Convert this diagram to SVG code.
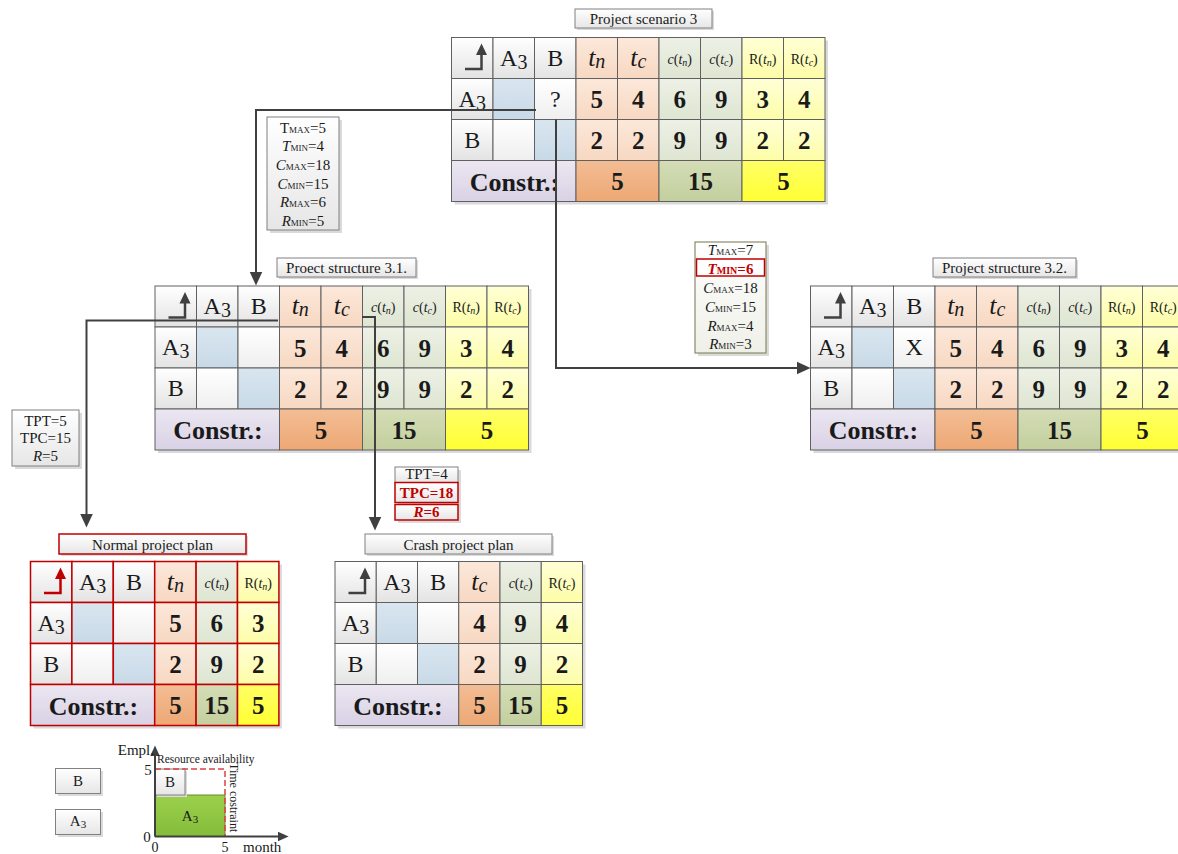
<svg xmlns="http://www.w3.org/2000/svg" width="1178" height="854" viewBox="0 0 1178 854">
<defs>
<linearGradient id="gHd" x1="0" y1="0" x2="0" y2="1"><stop offset="0" stop-color="#ffffff"/><stop offset="1" stop-color="#e3e3e3"/></linearGradient>
<linearGradient id="gBl" x1="0" y1="0" x2="0" y2="1"><stop offset="0" stop-color="#d9e6f0"/><stop offset="1" stop-color="#c8d9e7"/></linearGradient>
<linearGradient id="gWh" x1="0" y1="0" x2="0" y2="1"><stop offset="0" stop-color="#ffffff"/><stop offset="1" stop-color="#efefef"/></linearGradient>
<linearGradient id="gPe" x1="0" y1="0" x2="0" y2="1"><stop offset="0" stop-color="#fce8da"/><stop offset="1" stop-color="#f7d8c2"/></linearGradient>
<linearGradient id="gGr" x1="0" y1="0" x2="0" y2="1"><stop offset="0" stop-color="#edf1e6"/><stop offset="1" stop-color="#dee5d1"/></linearGradient>
<linearGradient id="gYe" x1="0" y1="0" x2="0" y2="1"><stop offset="0" stop-color="#ffffd6"/><stop offset="1" stop-color="#fdfda8"/></linearGradient>
<linearGradient id="gLv" x1="0" y1="0" x2="0" y2="1"><stop offset="0" stop-color="#ebe7f1"/><stop offset="1" stop-color="#d9d1e5"/></linearGradient>
<linearGradient id="gOT" x1="0" y1="0" x2="0" y2="1"><stop offset="0" stop-color="#f3bd94"/><stop offset="1" stop-color="#eda874"/></linearGradient>
<linearGradient id="gOC" x1="0" y1="0" x2="0" y2="1"><stop offset="0" stop-color="#d4ddb6"/><stop offset="1" stop-color="#c3cf9e"/></linearGradient>
<linearGradient id="gOR" x1="0" y1="0" x2="0" y2="1"><stop offset="0" stop-color="#ffff66"/><stop offset="1" stop-color="#ffff33"/></linearGradient>
<linearGradient id="gBox" x1="0" y1="0" x2="0" y2="1"><stop offset="0" stop-color="#ffffff"/><stop offset="1" stop-color="#e6e6e6"/></linearGradient>
<linearGradient id="gOl" x1="0" y1="0" x2="0" y2="1"><stop offset="0" stop-color="#ffffff"/><stop offset="1" stop-color="#eef0e8"/></linearGradient>
<linearGradient id="gGrn" x1="0" y1="0" x2="0" y2="1"><stop offset="0" stop-color="#9bd04c"/><stop offset="1" stop-color="#84bd3a"/></linearGradient>
<marker id="ah" markerUnits="userSpaceOnUse" markerWidth="14" markerHeight="14" refX="6" refY="6" orient="auto" viewBox="0 0 13 12"><path d="M0,0 L13,6 L0,12 z" fill="#404040"/></marker>
<marker id="ah2" markerUnits="userSpaceOnUse" markerWidth="11" markerHeight="10" refX="4" refY="4.5" orient="auto" viewBox="0 0 10 9"><path d="M0,0 L10,4.5 L0,9 z" fill="#404040"/></marker>
</defs>
<style>
.c{stroke:#606060;stroke-width:1}
.r{stroke:#c00000;stroke-width:1.5}
.hd{fill:url(#gHd)}
.bl{fill:url(#gBl)}
.wh{fill:url(#gWh)}
.pe{fill:url(#gPe)}
.gr{fill:url(#gGr)}
.ye{fill:url(#gYe)}
.lv{fill:url(#gLv)}
.oT{fill:url(#gOT)}
.oC{fill:url(#gOC)}
.oR{fill:url(#gOR)}
.sh{fill:#dadada}
.bx{fill:url(#gBox);stroke:#808080;stroke-width:1}
text{font-family:"Liberation Serif","Times New Roman",serif;fill:#1a1a1a}
.L{font-size:24px;text-anchor:middle}
.N{font-size:25px;font-weight:bold;text-anchor:middle}
.Cn{font-size:26px;font-weight:bold;text-anchor:middle}
.S{font-size:14px;text-anchor:middle}
.T{font-size:15px;text-anchor:middle}
.K{font-size:15px;text-anchor:middle}
text.red{fill:#c00000;font-weight:bold}
.i{font-style:italic}
.conn{fill:none;stroke:#404040;stroke-width:2}
.ar{fill:none;stroke:#404040;stroke-width:2.5}
.arR{fill:none;stroke:#c00000;stroke-width:2.5}
</style>

<!-- Project scenario 3 -->
<g id="title-scenario3">
<rect class="sh" x="577" y="11" width="137" height="19"/>
<rect class="bx" x="575" y="9" width="137" height="19"/>
<text class="T" x="643.5" y="24">Project scenario 3</text>
</g>
<g id="scenario3" transform="translate(451.5,37.5)">
<rect class="sh" x="3" y="3" width="373.5" height="164"/>
<rect class="c hd" x="0" y="0" width="41.5" height="41"/>
<rect class="c hd" x="41.5" y="0" width="41.5" height="41"/>
<rect class="c hd" x="83" y="0" width="41.5" height="41"/>
<rect class="c pe" x="124.5" y="0" width="41.5" height="41"/>
<rect class="c pe" x="166" y="0" width="41.5" height="41"/>
<rect class="c gr" x="207.5" y="0" width="41.5" height="41"/>
<rect class="c gr" x="249" y="0" width="41.5" height="41"/>
<rect class="c ye" x="290.5" y="0" width="41.5" height="41"/>
<rect class="c ye" x="332" y="0" width="41.5" height="41"/>
<rect class="c hd" x="0" y="41" width="41.5" height="41"/>
<rect class="c bl" x="41.5" y="41" width="41.5" height="41"/>
<rect class="c wh" x="83" y="41" width="41.5" height="41"/>
<rect class="c pe" x="124.5" y="41" width="41.5" height="41"/>
<rect class="c pe" x="166" y="41" width="41.5" height="41"/>
<rect class="c gr" x="207.5" y="41" width="41.5" height="41"/>
<rect class="c gr" x="249" y="41" width="41.5" height="41"/>
<rect class="c ye" x="290.5" y="41" width="41.5" height="41"/>
<rect class="c ye" x="332" y="41" width="41.5" height="41"/>
<rect class="c hd" x="0" y="82" width="41.5" height="41"/>
<rect class="c wh" x="41.5" y="82" width="41.5" height="41"/>
<rect class="c bl" x="83" y="82" width="41.5" height="41"/>
<rect class="c pe" x="124.5" y="82" width="41.5" height="41"/>
<rect class="c pe" x="166" y="82" width="41.5" height="41"/>
<rect class="c gr" x="207.5" y="82" width="41.5" height="41"/>
<rect class="c gr" x="249" y="82" width="41.5" height="41"/>
<rect class="c ye" x="290.5" y="82" width="41.5" height="41"/>
<rect class="c ye" x="332" y="82" width="41.5" height="41"/>
<rect class="c lv" x="0" y="123" width="124.5" height="41"/>
<rect class="c oT" x="124.5" y="123" width="83" height="41"/>
<rect class="c oC" x="207.5" y="123" width="83" height="41"/>
<rect class="c oR" x="290.5" y="123" width="83" height="41"/>
<path class="ar" d="M13.5,31.5 H30 V17"/><path d="M30,6 L24.5,17.5 L35.5,17.5 z" fill="#404040"/>
<text class="L" x="62.25" y="28">A<tspan font-size="20" dy="3">3</tspan></text>
<text class="L" x="103.75" y="28">B</text>
<text class="L" x="145.25" y="28"><tspan class="i" font-size="26">t</tspan><tspan class="i" font-size="20" dy="2">n</tspan></text>
<text class="L" x="186.75" y="28"><tspan class="i" font-size="26">t</tspan><tspan class="i" font-size="20" dy="2">c</tspan></text>
<text class="S" x="228.25" y="26" font-size="13"><tspan class="i">c</tspan>(<tspan class="i">t</tspan><tspan class="i" font-size="10" dy="2">n</tspan><tspan dy="-2">)</tspan></text>
<text class="S" x="269.75" y="26" font-size="13"><tspan class="i">c</tspan>(<tspan class="i">t</tspan><tspan class="i" font-size="10" dy="2">c</tspan><tspan dy="-2">)</tspan></text>
<text class="S" x="311.25" y="26">R(<tspan class="i">t</tspan><tspan class="i" font-size="10" dy="2">n</tspan><tspan dy="-2">)</tspan></text>
<text class="S" x="352.75" y="26">R(<tspan class="i">t</tspan><tspan class="i" font-size="10" dy="2">c</tspan><tspan dy="-2">)</tspan></text>
<text class="L" x="20.75" y="69">A<tspan font-size="20" dy="3">3</tspan></text>
<text class="L" x="103.75" y="69">?</text>
<text class="N" x="145.25" y="70.5">5</text>
<text class="N" x="186.75" y="70.5">4</text>
<text class="N" x="228.25" y="70.5">6</text>
<text class="N" x="269.75" y="70.5">9</text>
<text class="N" x="311.25" y="70.5">3</text>
<text class="N" x="352.75" y="70.5">4</text>
<text class="L" x="20.75" y="110">B</text>
<text class="N" x="145.25" y="111.5">2</text>
<text class="N" x="186.75" y="111.5">2</text>
<text class="N" x="228.25" y="111.5">9</text>
<text class="N" x="269.75" y="111.5">9</text>
<text class="N" x="311.25" y="111.5">2</text>
<text class="N" x="352.75" y="111.5">2</text>
<text class="Cn" x="63" y="153">Constr.:</text>
<text class="N" x="166" y="152.5">5</text>
<text class="N" x="249" y="152.5">15</text>
<text class="N" x="332" y="152.5">5</text>
</g>

<!-- Constraint box 1 -->
<g id="limits-3-1">
<rect class="sh" x="270" y="120" width="72" height="113"/>
<rect class="bx" x="267" y="117" width="72" height="113"/>
<text class="K" x="303" y="132.5">T<tspan font-size="9">MAX</tspan>=5</text>
<text class="K" x="303" y="151"><tspan class="i">T</tspan><tspan font-size="9">MIN</tspan>=4</text>
<text class="K" x="303" y="169.5"><tspan class="i">C</tspan><tspan font-size="9">MAX</tspan>=18</text>
<text class="K" x="303" y="188.5"><tspan class="i">C</tspan><tspan font-size="9">MIN</tspan>=15</text>
<text class="K" x="303" y="207"><tspan class="i">R</tspan><tspan font-size="9">MAX</tspan>=6</text>
<text class="K" x="303" y="225.5"><tspan class="i">R</tspan><tspan font-size="9">MIN</tspan>=5</text>
</g>

<!-- Constraint box 2 -->
<g id="limits-3-2">
<rect class="sh" x="698" y="245" width="71" height="111"/>
<rect x="695" y="242" width="71" height="111" fill="url(#gOl)" stroke="#8a8a6a" stroke-width="1.2"/>
<rect x="696.5" y="259" width="68" height="17" fill="#ffffff" stroke="#c00000" stroke-width="1.5"/>
<text class="K" x="730.5" y="255"><tspan class="i">T</tspan><tspan font-size="9">MAX</tspan>=7</text>
<text class="K red" x="730.5" y="273.5"><tspan class="i">T</tspan><tspan font-size="10">MIN</tspan>=6</text>
<text class="K" x="730.5" y="293"><tspan class="i">C</tspan><tspan font-size="9">MAX</tspan>=18</text>
<text class="K" x="730.5" y="312"><tspan class="i">C</tspan><tspan font-size="9">MIN</tspan>=15</text>
<text class="K" x="730.5" y="331"><tspan class="i">R</tspan><tspan font-size="9">MAX</tspan>=4</text>
<text class="K" x="730.5" y="348.5"><tspan class="i">R</tspan><tspan font-size="9">MIN</tspan>=3</text>
</g>

<!-- Structure 3.1 -->
<g id="title-structure31">
<rect class="sh" x="279" y="260" width="139" height="19"/>
<rect class="bx" x="277" y="258" width="139" height="19"/>
<text class="T" x="346.5" y="273">Proect structure 3.1.</text>
</g>
<g id="structure31" transform="translate(155,286)">
<rect class="sh" x="3" y="3" width="373.5" height="164"/>
<rect class="c hd" x="0" y="0" width="41.5" height="41"/>
<rect class="c hd" x="41.5" y="0" width="41.5" height="41"/>
<rect class="c hd" x="83" y="0" width="41.5" height="41"/>
<rect class="c pe" x="124.5" y="0" width="41.5" height="41"/>
<rect class="c pe" x="166" y="0" width="41.5" height="41"/>
<rect class="c gr" x="207.5" y="0" width="41.5" height="41"/>
<rect class="c gr" x="249" y="0" width="41.5" height="41"/>
<rect class="c ye" x="290.5" y="0" width="41.5" height="41"/>
<rect class="c ye" x="332" y="0" width="41.5" height="41"/>
<rect class="c hd" x="0" y="41" width="41.5" height="41"/>
<rect class="c bl" x="41.5" y="41" width="41.5" height="41"/>
<rect class="c wh" x="83" y="41" width="41.5" height="41"/>
<rect class="c pe" x="124.5" y="41" width="41.5" height="41"/>
<rect class="c pe" x="166" y="41" width="41.5" height="41"/>
<rect class="c gr" x="207.5" y="41" width="41.5" height="41"/>
<rect class="c gr" x="249" y="41" width="41.5" height="41"/>
<rect class="c ye" x="290.5" y="41" width="41.5" height="41"/>
<rect class="c ye" x="332" y="41" width="41.5" height="41"/>
<rect class="c hd" x="0" y="82" width="41.5" height="41"/>
<rect class="c wh" x="41.5" y="82" width="41.5" height="41"/>
<rect class="c bl" x="83" y="82" width="41.5" height="41"/>
<rect class="c pe" x="124.5" y="82" width="41.5" height="41"/>
<rect class="c pe" x="166" y="82" width="41.5" height="41"/>
<rect class="c gr" x="207.5" y="82" width="41.5" height="41"/>
<rect class="c gr" x="249" y="82" width="41.5" height="41"/>
<rect class="c ye" x="290.5" y="82" width="41.5" height="41"/>
<rect class="c ye" x="332" y="82" width="41.5" height="41"/>
<rect class="c lv" x="0" y="123" width="124.5" height="41"/>
<rect class="c oT" x="124.5" y="123" width="83" height="41"/>
<rect class="c oC" x="207.5" y="123" width="83" height="41"/>
<rect class="c oR" x="290.5" y="123" width="83" height="41"/>
<path class="ar" d="M13.5,31.5 H30 V17"/><path d="M30,6 L24.5,17.5 L35.5,17.5 z" fill="#404040"/>
<text class="L" x="62.25" y="28">A<tspan font-size="20" dy="3">3</tspan></text>
<text class="L" x="103.75" y="28">B</text>
<text class="L" x="145.25" y="28"><tspan class="i" font-size="26">t</tspan><tspan class="i" font-size="20" dy="2">n</tspan></text>
<text class="L" x="186.75" y="28"><tspan class="i" font-size="26">t</tspan><tspan class="i" font-size="20" dy="2">c</tspan></text>
<text class="S" x="228.25" y="26" font-size="13"><tspan class="i">c</tspan>(<tspan class="i">t</tspan><tspan class="i" font-size="10" dy="2">n</tspan><tspan dy="-2">)</tspan></text>
<text class="S" x="269.75" y="26" font-size="13"><tspan class="i">c</tspan>(<tspan class="i">t</tspan><tspan class="i" font-size="10" dy="2">c</tspan><tspan dy="-2">)</tspan></text>
<text class="S" x="311.25" y="26">R(<tspan class="i">t</tspan><tspan class="i" font-size="10" dy="2">n</tspan><tspan dy="-2">)</tspan></text>
<text class="S" x="352.75" y="26">R(<tspan class="i">t</tspan><tspan class="i" font-size="10" dy="2">c</tspan><tspan dy="-2">)</tspan></text>
<text class="L" x="20.75" y="69">A<tspan font-size="20" dy="3">3</tspan></text>
<text class="N" x="145.25" y="70.5">5</text>
<text class="N" x="186.75" y="70.5">4</text>
<text class="N" x="228.25" y="70.5">6</text>
<text class="N" x="269.75" y="70.5">9</text>
<text class="N" x="311.25" y="70.5">3</text>
<text class="N" x="352.75" y="70.5">4</text>
<text class="L" x="20.75" y="110">B</text>
<text class="N" x="145.25" y="111.5">2</text>
<text class="N" x="186.75" y="111.5">2</text>
<text class="N" x="228.25" y="111.5">9</text>
<text class="N" x="269.75" y="111.5">9</text>
<text class="N" x="311.25" y="111.5">2</text>
<text class="N" x="352.75" y="111.5">2</text>
<text class="Cn" x="63" y="153">Constr.:</text>
<text class="N" x="166" y="152.5">5</text>
<text class="N" x="249" y="152.5">15</text>
<text class="N" x="332" y="152.5">5</text>
</g>

<!-- Structure 3.2 -->
<g id="title-structure32">
<rect class="sh" x="935" y="260" width="143" height="19"/>
<rect class="bx" x="933" y="258" width="143" height="19"/>
<text class="T" x="1004.5" y="273">Project structure 3.2.</text>
</g>
<g id="structure32" transform="translate(810.5,286)">
<rect class="sh" x="3" y="3" width="373.5" height="164"/>
<rect class="c hd" x="0" y="0" width="41.5" height="41"/>
<rect class="c hd" x="41.5" y="0" width="41.5" height="41"/>
<rect class="c hd" x="83" y="0" width="41.5" height="41"/>
<rect class="c pe" x="124.5" y="0" width="41.5" height="41"/>
<rect class="c pe" x="166" y="0" width="41.5" height="41"/>
<rect class="c gr" x="207.5" y="0" width="41.5" height="41"/>
<rect class="c gr" x="249" y="0" width="41.5" height="41"/>
<rect class="c ye" x="290.5" y="0" width="41.5" height="41"/>
<rect class="c ye" x="332" y="0" width="41.5" height="41"/>
<rect class="c hd" x="0" y="41" width="41.5" height="41"/>
<rect class="c bl" x="41.5" y="41" width="41.5" height="41"/>
<rect class="c wh" x="83" y="41" width="41.5" height="41"/>
<rect class="c pe" x="124.5" y="41" width="41.5" height="41"/>
<rect class="c pe" x="166" y="41" width="41.5" height="41"/>
<rect class="c gr" x="207.5" y="41" width="41.5" height="41"/>
<rect class="c gr" x="249" y="41" width="41.5" height="41"/>
<rect class="c ye" x="290.5" y="41" width="41.5" height="41"/>
<rect class="c ye" x="332" y="41" width="41.5" height="41"/>
<rect class="c hd" x="0" y="82" width="41.5" height="41"/>
<rect class="c wh" x="41.5" y="82" width="41.5" height="41"/>
<rect class="c bl" x="83" y="82" width="41.5" height="41"/>
<rect class="c pe" x="124.5" y="82" width="41.5" height="41"/>
<rect class="c pe" x="166" y="82" width="41.5" height="41"/>
<rect class="c gr" x="207.5" y="82" width="41.5" height="41"/>
<rect class="c gr" x="249" y="82" width="41.5" height="41"/>
<rect class="c ye" x="290.5" y="82" width="41.5" height="41"/>
<rect class="c ye" x="332" y="82" width="41.5" height="41"/>
<rect class="c lv" x="0" y="123" width="124.5" height="41"/>
<rect class="c oT" x="124.5" y="123" width="83" height="41"/>
<rect class="c oC" x="207.5" y="123" width="83" height="41"/>
<rect class="c oR" x="290.5" y="123" width="83" height="41"/>
<path class="ar" d="M13.5,31.5 H30 V17"/><path d="M30,6 L24.5,17.5 L35.5,17.5 z" fill="#404040"/>
<text class="L" x="62.25" y="28">A<tspan font-size="20" dy="3">3</tspan></text>
<text class="L" x="103.75" y="28">B</text>
<text class="L" x="145.25" y="28"><tspan class="i" font-size="26">t</tspan><tspan class="i" font-size="20" dy="2">n</tspan></text>
<text class="L" x="186.75" y="28"><tspan class="i" font-size="26">t</tspan><tspan class="i" font-size="20" dy="2">c</tspan></text>
<text class="S" x="228.25" y="26" font-size="13"><tspan class="i">c</tspan>(<tspan class="i">t</tspan><tspan class="i" font-size="10" dy="2">n</tspan><tspan dy="-2">)</tspan></text>
<text class="S" x="269.75" y="26" font-size="13"><tspan class="i">c</tspan>(<tspan class="i">t</tspan><tspan class="i" font-size="10" dy="2">c</tspan><tspan dy="-2">)</tspan></text>
<text class="S" x="311.25" y="26">R(<tspan class="i">t</tspan><tspan class="i" font-size="10" dy="2">n</tspan><tspan dy="-2">)</tspan></text>
<text class="S" x="352.75" y="26">R(<tspan class="i">t</tspan><tspan class="i" font-size="10" dy="2">c</tspan><tspan dy="-2">)</tspan></text>
<text class="L" x="20.75" y="69">A<tspan font-size="20" dy="3">3</tspan></text>
<text class="L" x="103.75" y="69">X</text>
<text class="N" x="145.25" y="70.5">5</text>
<text class="N" x="186.75" y="70.5">4</text>
<text class="N" x="228.25" y="70.5">6</text>
<text class="N" x="269.75" y="70.5">9</text>
<text class="N" x="311.25" y="70.5">3</text>
<text class="N" x="352.75" y="70.5">4</text>
<text class="L" x="20.75" y="110">B</text>
<text class="N" x="145.25" y="111.5">2</text>
<text class="N" x="186.75" y="111.5">2</text>
<text class="N" x="228.25" y="111.5">9</text>
<text class="N" x="269.75" y="111.5">9</text>
<text class="N" x="311.25" y="111.5">2</text>
<text class="N" x="352.75" y="111.5">2</text>
<text class="Cn" x="63" y="153">Constr.:</text>
<text class="N" x="166" y="152.5">5</text>
<text class="N" x="249" y="152.5">15</text>
<text class="N" x="332" y="152.5">5</text>
</g>

<!-- TPT box left -->
<g id="result-normal">
<rect class="sh" x="15" y="413" width="67" height="56"/>
<rect class="bx" x="12" y="410" width="67" height="56"/>
<text class="K" x="45.5" y="426" font-size="16">TPT=5</text>
<text class="K" x="45.5" y="443" font-size="16">TPC=15</text>
<text class="K" x="45.5" y="460.5" font-size="16"><tspan class="i">R</tspan>=5</text>
</g>

<!-- TPT box middle -->
<g id="result-crash">
<rect class="sh" x="398" y="470" width="63" height="53"/>
<rect class="bx" x="395" y="467" width="63" height="15.5" stroke="#404040"/>
<rect x="395" y="482.5" width="63" height="20" fill="url(#gBox)" stroke="#c00000" stroke-width="1.5"/>
<rect x="395" y="504.5" width="63" height="15.5" fill="url(#gBox)" stroke="#c00000" stroke-width="1.5"/>
<text class="K" x="426.5" y="478.5">TPT=4</text>
<text class="K red" x="426.5" y="497.5">TPC=18</text>
<text class="K red" x="426.5" y="517"><tspan class="i">R</tspan>=6</text>
</g>

<!-- Normal project plan -->
<g id="title-normal">
<rect class="sh" x="61" y="536" width="187" height="20"/>
<rect x="59" y="534" width="187" height="20" fill="url(#gBox)" stroke="#c00000" stroke-width="1.5"/>
<text class="T" x="152.5" y="549.5">Normal project plan</text>
</g>
<g id="normal-plan" transform="translate(30.5,561.5)">
<rect class="sh" x="3" y="3" width="248.4" height="164"/>
<rect class="r hd" x="0" y="0" width="41.4" height="41"/>
<rect class="r hd" x="41.4" y="0" width="41.4" height="41"/>
<rect class="r hd" x="82.8" y="0" width="41.4" height="41"/>
<rect class="r pe" x="124.2" y="0" width="41.4" height="41"/>
<rect class="r gr" x="165.6" y="0" width="41.4" height="41"/>
<rect class="r ye" x="207" y="0" width="41.4" height="41"/>
<rect class="r hd" x="0" y="41" width="41.4" height="41"/>
<rect class="r bl" x="41.4" y="41" width="41.4" height="41"/>
<rect class="r wh" x="82.8" y="41" width="41.4" height="41"/>
<rect class="r pe" x="124.2" y="41" width="41.4" height="41"/>
<rect class="r gr" x="165.6" y="41" width="41.4" height="41"/>
<rect class="r ye" x="207" y="41" width="41.4" height="41"/>
<rect class="r hd" x="0" y="82" width="41.4" height="41"/>
<rect class="r wh" x="41.4" y="82" width="41.4" height="41"/>
<rect class="r bl" x="82.8" y="82" width="41.4" height="41"/>
<rect class="r pe" x="124.2" y="82" width="41.4" height="41"/>
<rect class="r gr" x="165.6" y="82" width="41.4" height="41"/>
<rect class="r ye" x="207" y="82" width="41.4" height="41"/>
<rect class="r lv" x="0" y="123" width="124.2" height="41"/>
<rect class="r oT" x="124.2" y="123" width="41.4" height="41"/>
<rect class="r oC" x="165.6" y="123" width="41.4" height="41"/>
<rect class="r oR" x="207" y="123" width="41.4" height="41"/>
<path class="arR" d="M13.5,31.5 H30 V17"/><path d="M30,6 L24.5,17.5 L35.5,17.5 z" fill="#c00000"/>
<text class="L" x="62.1" y="28">A<tspan font-size="20" dy="3">3</tspan></text>
<text class="L" x="103.5" y="28">B</text>
<text class="L" x="144.9" y="28"><tspan class="i" font-size="26">t</tspan><tspan class="i" font-size="20" dy="2">n</tspan></text>
<text class="S" x="186.3" y="26" font-size="13"><tspan class="i">c</tspan>(<tspan class="i">t</tspan><tspan class="i" font-size="10" dy="2">n</tspan><tspan dy="-2">)</tspan></text>
<text class="S" x="227.7" y="26">R(<tspan class="i">t</tspan><tspan class="i" font-size="10" dy="2">n</tspan><tspan dy="-2">)</tspan></text>
<text class="L" x="20.7" y="69">A<tspan font-size="20" dy="3">3</tspan></text>
<text class="N" x="144.9" y="70.5">5</text>
<text class="N" x="186.3" y="70.5">6</text>
<text class="N" x="227.7" y="70.5">3</text>
<text class="L" x="20.7" y="110">B</text>
<text class="N" x="144.9" y="111.5">2</text>
<text class="N" x="186.3" y="111.5">9</text>
<text class="N" x="227.7" y="111.5">2</text>
<text class="Cn" x="63" y="153">Constr.:</text>
<text class="N" x="144.9" y="152.5">5</text>
<text class="N" x="186.3" y="152.5">15</text>
<text class="N" x="227.7" y="152.5">5</text>
</g>

<!-- Crash project plan -->
<g id="title-crash">
<rect class="sh" x="367" y="536" width="187" height="20"/>
<rect class="bx" x="365" y="534" width="187" height="20"/>
<text class="T" x="458.5" y="549.5">Crash project plan</text>
</g>
<g id="crash-plan" transform="translate(335,561.5)">
<rect class="sh" x="3" y="3" width="247.5" height="164"/>
<rect class="c hd" x="0" y="0" width="41.25" height="41"/>
<rect class="c hd" x="41.25" y="0" width="41.25" height="41"/>
<rect class="c hd" x="82.5" y="0" width="41.25" height="41"/>
<rect class="c pe" x="123.75" y="0" width="41.25" height="41"/>
<rect class="c gr" x="165" y="0" width="41.25" height="41"/>
<rect class="c ye" x="206.25" y="0" width="41.25" height="41"/>
<rect class="c hd" x="0" y="41" width="41.25" height="41"/>
<rect class="c bl" x="41.25" y="41" width="41.25" height="41"/>
<rect class="c wh" x="82.5" y="41" width="41.25" height="41"/>
<rect class="c pe" x="123.75" y="41" width="41.25" height="41"/>
<rect class="c gr" x="165" y="41" width="41.25" height="41"/>
<rect class="c ye" x="206.25" y="41" width="41.25" height="41"/>
<rect class="c hd" x="0" y="82" width="41.25" height="41"/>
<rect class="c wh" x="41.25" y="82" width="41.25" height="41"/>
<rect class="c bl" x="82.5" y="82" width="41.25" height="41"/>
<rect class="c pe" x="123.75" y="82" width="41.25" height="41"/>
<rect class="c gr" x="165" y="82" width="41.25" height="41"/>
<rect class="c ye" x="206.25" y="82" width="41.25" height="41"/>
<rect class="c lv" x="0" y="123" width="123.75" height="41"/>
<rect class="c oT" x="123.75" y="123" width="41.25" height="41"/>
<rect class="c oC" x="165" y="123" width="41.25" height="41"/>
<rect class="c oR" x="206.25" y="123" width="41.25" height="41"/>
<path class="ar" d="M13.5,31.5 H30 V17"/><path d="M30,6 L24.5,17.5 L35.5,17.5 z" fill="#404040"/>
<text class="L" x="61.9" y="28">A<tspan font-size="20" dy="3">3</tspan></text>
<text class="L" x="103.1" y="28">B</text>
<text class="L" x="144.4" y="28"><tspan class="i" font-size="26">t</tspan><tspan class="i" font-size="20" dy="2">c</tspan></text>
<text class="S" x="185.6" y="26" font-size="13"><tspan class="i">c</tspan>(<tspan class="i">t</tspan><tspan class="i" font-size="10" dy="2">c</tspan><tspan dy="-2">)</tspan></text>
<text class="S" x="226.9" y="26">R(<tspan class="i">t</tspan><tspan class="i" font-size="10" dy="2">c</tspan><tspan dy="-2">)</tspan></text>
<text class="L" x="20.6" y="69">A<tspan font-size="20" dy="3">3</tspan></text>
<text class="N" x="144.4" y="70.5">4</text>
<text class="N" x="185.6" y="70.5">9</text>
<text class="N" x="226.9" y="70.5">4</text>
<text class="L" x="20.6" y="110">B</text>
<text class="N" x="144.4" y="111.5">2</text>
<text class="N" x="185.6" y="111.5">9</text>
<text class="N" x="226.9" y="111.5">2</text>
<text class="Cn" x="63" y="153">Constr.:</text>
<text class="N" x="144.4" y="152.5">5</text>
<text class="N" x="185.6" y="152.5">15</text>
<text class="N" x="226.9" y="152.5">5</text>
</g>

<!-- Connectors -->
<g id="connectors">
<path class="conn" d="M536,110 H256 V278" marker-end="url(#ah)"/>
<path class="conn" d="M556,119.5 V368 H803" marker-end="url(#ah)"/>
<path class="conn" d="M278,320.5 H86.5 V520" marker-end="url(#ah)"/>
<path class="conn" d="M362,317 H375 V523" marker-end="url(#ah)"/>
</g>

<!-- Legend -->
<g id="legend-B">
<rect class="sh" x="58" y="771" width="45" height="25"/>
<rect class="bx" x="55.5" y="768.5" width="45" height="25"/>
<text class="T" x="78" y="786" font-size="14">B</text>
</g>
<g id="legend-A3">
<rect class="sh" x="58" y="812" width="45" height="25"/>
<rect class="bx" x="55.5" y="809.5" width="45" height="25"/>
<text class="T" x="78" y="826" font-size="13">A<tspan font-size="11" dy="2">3</tspan></text>
</g>

<!-- Resource chart -->
<g id="resource-chart">
<rect x="155" y="795" width="70" height="41.5" fill="url(#gGrn)" stroke="#5e8f2c" stroke-width="1"/>
<rect class="sh" x="157" y="771" width="30" height="26"/>
<rect class="bx" x="155" y="769" width="30" height="26"/>
<path d="M155,769 H225 V836.5" fill="none" stroke="#e04040" stroke-width="1.5" stroke-dasharray="6,3"/>
<path class="conn" d="M155,836.5 V752" marker-end="url(#ah2)"/>
<path class="conn" d="M155,836.5 H282" marker-end="url(#ah2)"/>
<text class="T" x="170" y="787" font-size="14">B</text>
<text class="T" x="190" y="821" font-size="13">A<tspan font-size="11" dy="2">3</tspan></text>
<text x="154" y="755" font-size="15" text-anchor="end">Empl.</text>
<text x="157" y="763" font-size="11.5">Resource availability</text>
<text x="148" y="775" font-size="15" text-anchor="middle">5</text>
<text x="147" y="842" font-size="15" text-anchor="middle">0</text>
<text x="155" y="852" font-size="14" text-anchor="middle">0</text>
<text x="225" y="852" font-size="14" text-anchor="middle">5</text>
<text x="243" y="852" font-size="15">month</text>
<text transform="translate(230,763) rotate(90)" font-size="12">Time costraint</text>
</g>
</svg>
